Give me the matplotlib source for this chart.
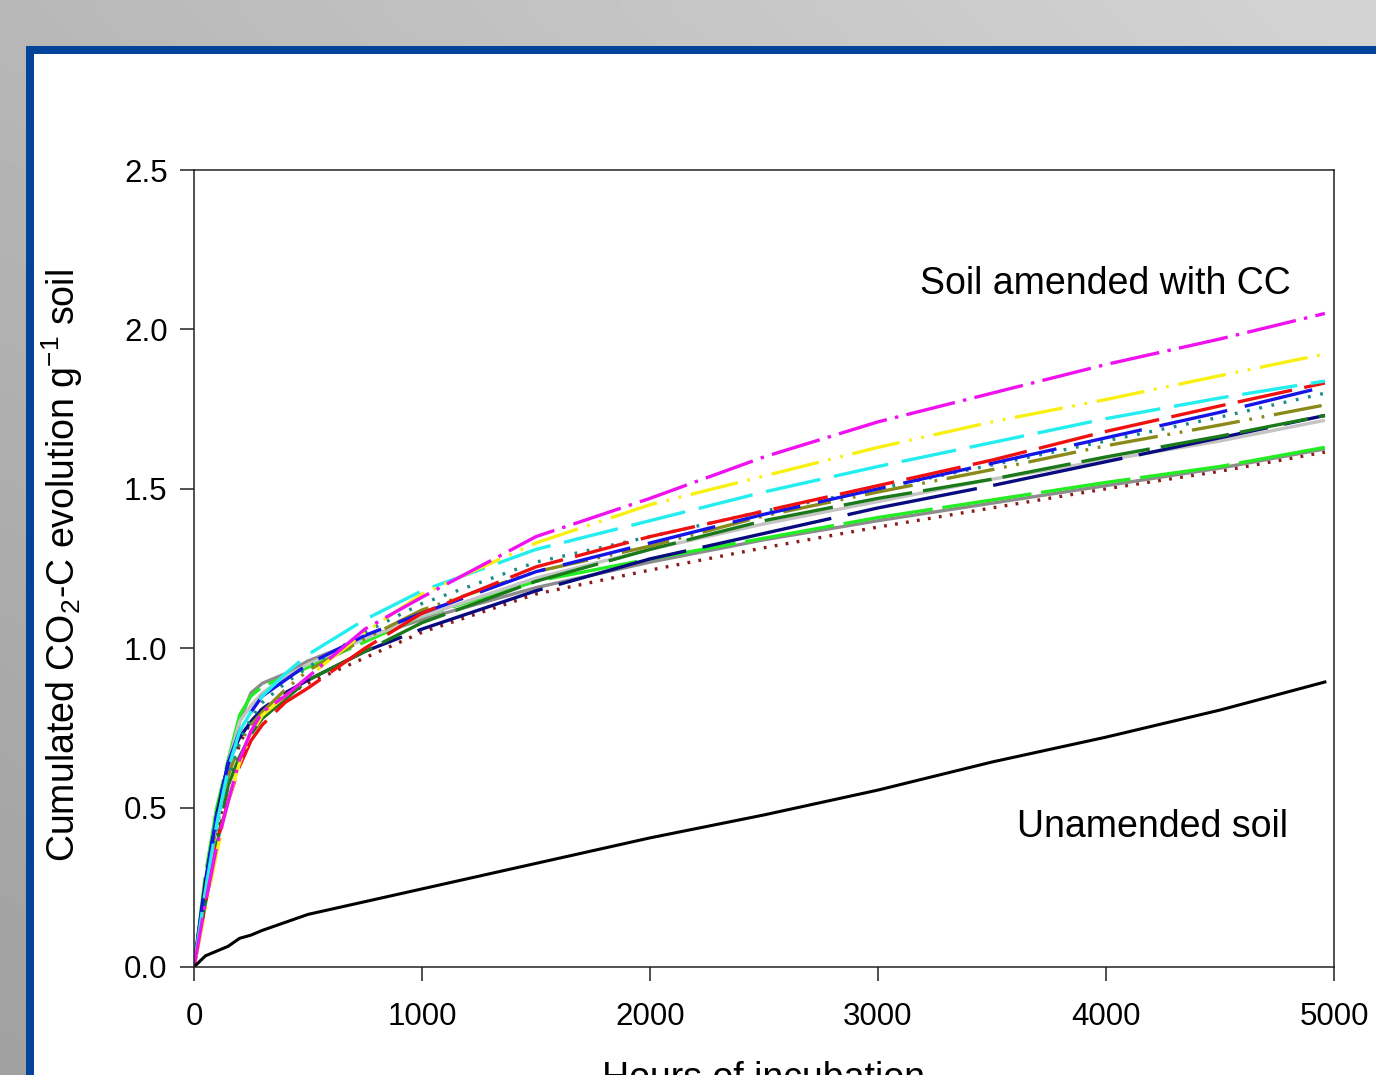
import matplotlib
matplotlib.use("Agg")
import matplotlib.pyplot as plt
import numpy as np
from matplotlib.patches import Rectangle


HOURS = [0, 50, 100, 150, 200, 250, 300, 400, 500, 750, 1000,
         1500, 2000, 2500, 3000, 3500, 4000, 4500, 4960]

MAGENTA = [0, 0.20, 0.38, 0.52, 0.65, 0.74, 0.80, 0.85, 0.91, 1.06, 1.16,
           1.35, 1.47, 1.60, 1.71, 1.80, 1.89, 1.97, 2.05]
YELLOW = [0, 0.18, 0.36, 0.52, 0.64, 0.73, 0.79, 0.85, 0.91, 1.05, 1.17,
          1.33, 1.45, 1.54, 1.63, 1.71, 1.78, 1.855, 1.923]
CYAN = [0, 0.24, 0.45, 0.62, 0.74, 0.80, 0.85, 0.92, 0.98, 1.09, 1.18,
        1.31, 1.40, 1.49, 1.57, 1.645, 1.72, 1.785, 1.838]
RED = [0, 0.20, 0.39, 0.52, 0.63, 0.71, 0.76, 0.83, 0.875, 1.00, 1.11,
       1.255, 1.35, 1.43, 1.51, 1.59, 1.68, 1.76, 1.832]
BLUE = [0, 0.26, 0.48, 0.64, 0.74, 0.80, 0.85, 0.90, 0.95, 1.04, 1.11,
        1.24, 1.33, 1.42, 1.50, 1.58, 1.66, 1.74, 1.82]
TEAL = [0, 0.23, 0.44, 0.60, 0.71, 0.78, 0.83, 0.89, 0.94, 1.05, 1.14,
        1.27, 1.35, 1.43, 1.50, 1.575, 1.65, 1.725, 1.80]
OLIVE = [0, 0.24, 0.46, 0.60, 0.70, 0.76, 0.80, 0.87, 0.93, 1.03, 1.12,
         1.24, 1.32, 1.415, 1.49, 1.56, 1.635, 1.70, 1.763]
LIGHTGRAY = [0, 0.26, 0.47, 0.64, 0.77, 0.82, 0.86, 0.91, 0.95, 1.03, 1.10,
             1.22, 1.31, 1.39, 1.46, 1.53, 1.59, 1.65, 1.715]
DARKGREEN = [0, 0.20, 0.38, 0.57, 0.66, 0.73, 0.78, 0.84, 0.90, 0.99, 1.08,
             1.21, 1.31, 1.40, 1.47, 1.53, 1.60, 1.665, 1.73]
NAVY = [0, 0.27, 0.48, 0.64, 0.72, 0.77, 0.81, 0.86, 0.90, 0.99, 1.06,
        1.18, 1.28, 1.36, 1.44, 1.51, 1.585, 1.66, 1.73]
LIME = [0, 0.29, 0.50, 0.65, 0.79, 0.85, 0.88, 0.91, 0.94, 1.02, 1.10,
        1.21, 1.28, 1.345, 1.41, 1.465, 1.52, 1.57, 1.63]
GRAY = [0, 0.25, 0.45, 0.62, 0.77, 0.86, 0.89, 0.92, 0.96, 1.03, 1.09,
        1.19, 1.27, 1.34, 1.40, 1.455, 1.51, 1.565, 1.625]
DARKRED = [0, 0.22, 0.42, 0.58, 0.70, 0.77, 0.81, 0.85, 0.89, 0.97, 1.05,
           1.17, 1.245, 1.315, 1.38, 1.44, 1.50, 1.555, 1.615]
UNAMENDED = [0, 0.035, 0.05, 0.065, 0.09, 0.10, 0.115, 0.14, 0.165, 0.205, 0.245,
             0.325, 0.405, 0.477, 0.555, 0.643, 0.721, 0.806, 0.894]

X_TICKS = [0, 1000, 2000, 3000, 4000, 5000]
Y_TICKS = [0.0, 0.5, 1.0, 1.5, 2.0, 2.5]

W, H = 1376, 1075


def draw_background(fig):
    bg = fig.add_axes([0, 0, 1, 1], zorder=-10)
    xx, yy = np.meshgrid(np.linspace(0, 1, 64), np.linspace(0, 1, 64))
    shade = 0.72 + 0.11 * xx - 0.09 * yy
    bg.imshow(shade, cmap="gray", vmin=0, vmax=1, extent=[0, W, H, 0],
              aspect="auto", interpolation="bilinear")
    bg.add_patch(Rectangle((26, 46), W, H, color="#03449a", lw=0))
    bg.add_patch(Rectangle((34, 54), W, H, color="white", lw=0))
    bg.set_xlim(0, W)
    bg.set_ylim(H, 0)
    bg.axis("off")


def main():
    plt.rcParams["font.family"] = ["Liberation Sans", "DejaVu Sans"]
    plt.rcParams["mathtext.fontset"] = "custom"
    plt.rcParams["mathtext.rm"] = "Liberation Sans"
    plt.rcParams["mathtext.it"] = "Liberation Sans"
    plt.rcParams["lines.scale_dashes"] = False

    fig = plt.figure(figsize=(W / 100, H / 100), dpi=100)
    draw_background(fig)

    ax = fig.add_axes([194 / W, 1 - 967 / H, 1140 / W, 797 / H])
    ax.set_facecolor("none")

    lw = 2.4
    series = [
        (DARKRED, "#8b1a1a", (0, (2, 6))),
        (GRAY, "#8c8c8c", "-"),
        (LIME, "#22ee22", (0, (65, 7))),
        (LIGHTGRAY, "#c4c4c4", "-"),
        (NAVY, "#0a0a80", (0, (95, 12))),
        (DARKGREEN, "#1a7a1a", (0, (50, 8))),
        (OLIVE, "#8a8a1a", (0, (35, 7, 2, 7, 2, 7))),
        (TEAL, "#1a8a8a", (0, (2, 7))),
        (BLUE, "#1515e8", (0, (50, 13))),
        (RED, "#f01010", (0, (40, 9))),
        (CYAN, "#22eef0", (0, (40, 10))),
        (YELLOW, "#f8f010", (0, (35, 7, 2, 7, 2, 7))),
        (MAGENTA, "#f010f0", (0, (36, 6, 2.5, 6))),
    ]
    for values, color, style in series:
        ax.plot(HOURS, values, color=color, linestyle=style, lw=lw,
                solid_capstyle="butt")
    ax.plot(HOURS, UNAMENDED, color="black", lw=2.2)

    ax.text(3184, 2.111, "Soil amended with CC", fontsize=27,
            ha="left", va="baseline")
    ax.text(3610, 0.408, "Unamended soil", fontsize=27,
            ha="left", va="baseline")

    ax.set_xlim(0, 5000)
    ax.set_ylim(0, 2.5)
    ax.set_xticks(X_TICKS)
    ax.set_yticks(Y_TICKS)
    ax.set_yticklabels([f"{v:.1f}" for v in Y_TICKS])
    ax.tick_params(direction="out", length=10, width=1.1, labelsize=22.5,
                   pad=9, color="#222222")
    ax.tick_params(axis="x", pad=15)
    for spine in ax.spines.values():
        spine.set_linewidth(1.1)
        spine.set_color("#222222")

    fig.text(62 / W, 1 - 566 / H,
             r"Cumulated CO$_2$-C evolution g$^{-1}$ soil",
             fontsize=27, rotation=90, ha="center", va="center")
    # the slide crops this label at the bottom edge, as in the source
    fig.text(764 / W, 1 - 1089 / H, "Hours of incubation", fontsize=27,
             ha="center", va="baseline")

    fig.savefig("out.png", dpi=100)
    plt.close(fig)


if __name__ == "__main__":
    main()
